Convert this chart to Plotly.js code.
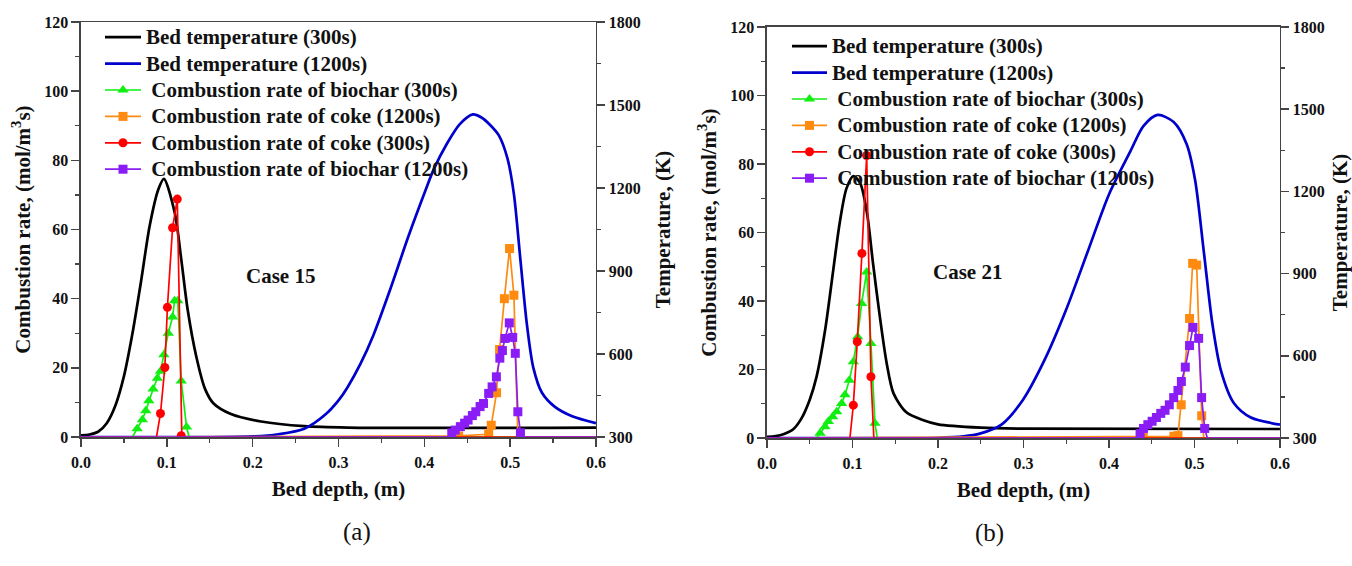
<!DOCTYPE html>
<html><head><meta charset="utf-8">
<script src="https://cdn.plot.ly/plotly-3.0.1.min.js"></script>
<style>html,body{margin:0;padding:0;background:#fff;}</style>
</head><body><div id="chart" style="width:1352px;height:566px;"></div>
<script>
// ---------- Case 15 (panel a) ----------
const a_bed300_x = [0, 0.01, 0.02, 0.03, 0.04, 0.05, 0.06, 0.07, 0.08, 0.09, 0.0966, 0.1092, 0.1168, 0.1243, 0.1344, 0.1445, 0.1545, 0.1747, 0.2099, 0.2602, 0.3106, 0.6];
const a_bed300_T = [306, 309, 319, 350, 413, 519, 675, 863, 1063, 1194, 1233, 1111, 943, 760, 590, 474, 421, 383, 356, 339, 334, 334];
const a_bed1200_x = [0, 0.2, 0.23, 0.2602, 0.2854, 0.3005, 0.3106, 0.3257, 0.3408, 0.3609, 0.381, 0.4012, 0.4112, 0.4263, 0.4414, 0.4565, 0.4666, 0.4767, 0.4867, 0.4968, 0.5044, 0.5119, 0.5195, 0.527, 0.5371, 0.5522, 0.5723, 0.6];
const a_bed1200_T = [300, 302, 310, 330, 383, 434, 480, 565, 669, 839, 1021, 1190, 1269, 1360, 1431, 1466, 1455, 1428, 1391, 1308, 1178, 943, 708, 551, 460, 409, 375, 350];
const a_bio300_x = [0, 0.06, 0.0654, 0.0715, 0.0755, 0.079, 0.084, 0.089, 0.0926, 0.0966, 0.1017, 0.1067, 0.109, 0.1128, 0.1168, 0.123, 0.126, 0.6];
const a_bio300_r = [0, 0, 2.4, 5, 7.6, 10.5, 13.9, 17, 19, 23.8, 30, 34.7, 39.4, 39.4, 16.2, 2.9, 0, 0];
const a_coke1200_x = [0, 0.44, 0.475, 0.478, 0.4842, 0.4877, 0.4933, 0.4993, 0.5044, 0.509, 0.6];
const a_coke1200_r = [0, 0.3, 0.8, 3.4, 12.8, 25.3, 40, 54.5, 41, 0, 0];
const a_coke300_x = [0, 0.088, 0.0926, 0.0977, 0.1007, 0.1067, 0.1122, 0.1168, 0.1175, 0.6];
const a_coke300_r = [0, 0, 6.8, 20.1, 37.5, 60.5, 68.8, 0.4, 0, 0];
const a_bio1200_x = [0, 0.428, 0.432, 0.436, 0.442, 0.447, 0.451, 0.456, 0.460, 0.465, 0.469, 0.475, 0.479, 0.484, 0.488, 0.491, 0.494, 0.499, 0.503, 0.506, 0.509, 0.512, 0.515, 0.6];
const a_bio1200_r = [0, 0, 1.2, 2, 3, 4, 4.9, 6.2, 7.3, 8.8, 9.7, 12.6, 14.5, 17.4, 22.8, 25, 28.5, 33, 28.8, 24.2, 7.3, 1.2, 0, 0];

// ---------- Case 21 (panel b) ----------
const b_bed300_x = [0, 0.01, 0.02, 0.03, 0.04, 0.05, 0.058, 0.068, 0.0775, 0.085, 0.093, 0.101, 0.109, 0.117, 0.124, 0.132, 0.14, 0.148, 0.163, 0.183, 0.2, 0.25, 0.3, 0.6];
const b_bed300_T = [304, 307, 315, 330, 370, 440, 524, 694, 913, 1084, 1211, 1256, 1230, 1120, 938, 743, 573, 463, 394, 365, 350, 338, 334, 333];
const b_bed1200_x = [0, 0.2, 0.23, 0.249, 0.2743, 0.2995, 0.3247, 0.35, 0.375, 0.4, 0.425, 0.4405, 0.457, 0.4757, 0.4908, 0.5008, 0.511, 0.521, 0.531, 0.546, 0.566, 0.6];
const b_bed1200_T = [300, 301, 306, 316, 349, 440, 585, 769, 979, 1189, 1346, 1439, 1479, 1453, 1373, 1241, 979, 716, 546, 428, 375, 349];
const b_bio300_x = [0, 0.058, 0.062, 0.0678, 0.0717, 0.0768, 0.0815, 0.0873, 0.0912, 0.0963, 0.101, 0.106, 0.1107, 0.1166, 0.1216, 0.1263, 0.129, 0.6];
const b_bio300_r = [0, 0, 1.4, 3.3, 4.8, 6.2, 7.7, 10.1, 12.6, 16.9, 22.3, 29.6, 39.3, 48.5, 27.6, 4.3, 0, 0];
const b_coke1200_x = [0, 0.44, 0.476, 0.4807, 0.4845, 0.4943, 0.4979, 0.5026, 0.5085, 0.511, 0.6];
const b_coke1200_r = [0, 0.3, 0.5, 0.7, 9.7, 34.9, 51, 50.5, 6.5, 0, 0];
const b_coke300_x = [0, 0.097, 0.101, 0.1056, 0.111, 0.1166, 0.1216, 0.125, 0.6];
const b_coke300_r = [0, 0, 9.6, 28.1, 53.9, 82.5, 17.9, 0, 0];
const b_bio1200_x = [0, 0.432, 0.4364, 0.4404, 0.4455, 0.4505, 0.4555, 0.4606, 0.4656, 0.4706, 0.4757, 0.4807, 0.4847, 0.4893, 0.4943, 0.4983, 0.5049, 0.5084, 0.512, 0.515, 0.6];
const b_bio1200_r = [0, 0, 1.3, 2.8, 3.9, 4.9, 6, 7.2, 8.1, 9.7, 11.8, 13.9, 16.5, 20.7, 27, 32.3, 29.1, 11.8, 2.8, 0, 0];

const legendNames = ['Bed temperature (300s)', 'Bed temperature (1200s)', ' Combustion rate of biochar (300s)', ' Combustion rate of coke (1200s)', ' Combustion rate of coke (300s)', ' Combustion rate of biochar (1200s)'];
const caseLabels = ['Case 15', 'Case 21'];
const panelLabels = ['(a)', '(b)'];

// ---------- styling ----------
const FONT = 'Liberation Serif, Times New Roman, serif';
const COLORS = {black: '#000000', blue: '#0000cc', green: '#11ee11', orange: '#ff8a10', red: '#ff0000', purple: '#8a1cf5'};

function lbl(t) { return '<span style="font-size:21px">' + t + '</span>'; }
function nonzero(arr) { const idx = []; arr.forEach((v, i) => { if (v > 0) idx.push(i); }); return idx; }

function tempTrace(x, y, name, color, xa, ya, leg) {
  return {x: x, y: y, name: lbl(name), type: 'scatter', mode: 'lines', xaxis: xa, yaxis: ya, legend: leg,
          line: {color: color, width: 2.7, shape: 'spline', smoothing: 0.8}, hoverinfo: 'skip'};
}
function rateTrace(x, y, name, color, symbol, size, xa, ya, leg) {
  return {x: x, y: y, name: lbl(name), type: 'scatter', mode: 'lines+markers', xaxis: xa, yaxis: ya, legend: leg,
          line: {color: color, width: 1.7},
          marker: {color: color, symbol: symbol, size: size},
          selectedpoints: nonzero(y), unselected: {marker: {opacity: 0}}, selected: {marker: {opacity: 1}},
          hoverinfo: 'skip'};
}

const data = [
  tempTrace(a_bed300_x, a_bed300_T, legendNames[0], COLORS.black, 'x', 'y', 'legend'),
  tempTrace(a_bed1200_x, a_bed1200_T, legendNames[1], COLORS.blue, 'x', 'y', 'legend'),
  rateTrace(a_bio300_x, a_bio300_r, legendNames[2], COLORS.green, 'triangle-up', 10, 'x', 'y2', 'legend'),
  rateTrace(a_coke1200_x, a_coke1200_r, legendNames[3], COLORS.orange, 'square', 9, 'x', 'y2', 'legend'),
  rateTrace(a_coke300_x, a_coke300_r, legendNames[4], COLORS.red, 'circle', 9, 'x', 'y2', 'legend'),
  rateTrace(a_bio1200_x, a_bio1200_r, legendNames[5], COLORS.purple, 'square', 9, 'x', 'y2', 'legend'),
  tempTrace(b_bed300_x, b_bed300_T, legendNames[0], COLORS.black, 'x2', 'y3', 'legend2'),
  tempTrace(b_bed1200_x, b_bed1200_T, legendNames[1], COLORS.blue, 'x2', 'y3', 'legend2'),
  rateTrace(b_bio300_x, b_bio300_r, legendNames[2], COLORS.green, 'triangle-up', 10, 'x2', 'y4', 'legend2'),
  rateTrace(b_coke1200_x, b_coke1200_r, legendNames[3], COLORS.orange, 'square', 9, 'x2', 'y4', 'legend2'),
  rateTrace(b_coke300_x, b_coke300_r, legendNames[4], COLORS.red, 'circle', 9, 'x2', 'y4', 'legend2'),
  rateTrace(b_bio1200_x, b_bio1200_r, legendNames[5], COLORS.purple, 'square', 9, 'x2', 'y4', 'legend2')
];

const LINE = '#444444';
const tickFont = {family: FONT, size: 16, color: '#111', weight: 'bold'};
const titleFont = {family: FONT, size: 21, color: '#111', weight: 'bold'};

function xAxis(domain, anchor) {
  return {domain: domain, anchor: anchor, range: [0, 0.6], dtick: 0.1, tick0: 0, tickformat: '.1f',
          ticks: 'outside', ticklen: 8, tickwidth: 1.5, tickcolor: LINE, ticklabelstandoff: 2,
          minor: {dtick: 0.05, ticks: 'outside', ticklen: 4, tickwidth: 1.3, tickcolor: LINE},
          showline: true, linecolor: LINE, linewidth: 1.5, mirror: true, showgrid: false, zeroline: false,
          tickfont: tickFont, title: {text: 'Bed depth, (m)', font: titleFont, standoff: 11}};
}
function tempAxis(domain, anchor) {
  return {domain: domain, anchor: anchor, side: 'right', range: [300, 1800], dtick: 300, tick0: 300,
          ticks: 'outside', ticklen: 8, tickwidth: 1.5, tickcolor: LINE,
          minor: {dtick: 150, ticks: 'outside', ticklen: 4, tickwidth: 1.3, tickcolor: LINE},
          showline: true, linecolor: LINE, linewidth: 1.5, showgrid: false, zeroline: false,
          tickfont: tickFont, title: {text: 'Temperature, (K)', font: titleFont, standoff: 15}};
}
function rateAxis(over, anchor) {
  return {overlaying: over, anchor: anchor, side: 'left', range: [0, 120], dtick: 20, tick0: 0,
          ticks: 'outside', ticklen: 8, tickwidth: 1.5, tickcolor: LINE,
          minor: {dtick: 10, ticks: 'outside', ticklen: 4, tickwidth: 1.3, tickcolor: LINE},
          showline: true, linecolor: LINE, linewidth: 1.5, showgrid: false, zeroline: false,
          tickfont: tickFont, title: {text: 'Combustion rate, (mol/m<sup>3</sup>s)', font: titleFont, standoff: 8}};
}

const legendBase = {bgcolor: 'rgba(0,0,0,0)', borderwidth: 0, font: {family: FONT, size: 18, color: '#111', weight: 'bold'},
                    xanchor: 'left', yanchor: 'top', traceorder: 'normal'};

const layout = {
  width: 1352, height: 566, margin: {l: 0, r: 0, t: 0, b: 0},
  paper_bgcolor: '#ffffff', plot_bgcolor: '#ffffff',
  font: {family: FONT, color: '#111'},
  showlegend: true,
  xaxis: xAxis([0.0599, 0.4408], 'y'),
  yaxis: tempAxis([0.2279, 0.9611], 'x'),
  yaxis2: rateAxis('y', 'x'),
  xaxis2: xAxis([0.5673, 0.9467], 'y3'),
  yaxis3: tempAxis([0.2261, 0.9523], 'x2'),
  yaxis4: rateAxis('y3', 'x2'),
  legend: Object.assign({}, legendBase, {x: 100 / 1352, y: 1 - 19 / 566, itemwidth: 36}),
  legend2: Object.assign({}, legendBase, {x: 787 / 1352, y: 1 - 28 / 566, itemwidth: 35}),
  annotations: [
    {text: caseLabels[0], x: 0.2325, y: 46.7, xref: 'x', yref: 'y2', showarrow: false,
     font: {family: FONT, size: 21, color: '#111', weight: 'bold'}},
    {text: caseLabels[1], x: 0.235, y: 48.5, xref: 'x2', yref: 'y4', showarrow: false,
     font: {family: FONT, size: 21, color: '#111', weight: 'bold'}},
    {text: panelLabels[0], x: 341 / 1352, y: 1 - 548 / 566, xref: 'paper', yref: 'paper', showarrow: false,
     font: {family: FONT, size: 25, color: '#111'}},
    {text: panelLabels[1], x: 1006 / 1352, y: 1 - 549 / 566, xref: 'paper', yref: 'paper', showarrow: false,
     font: {family: FONT, size: 25, color: '#111'}}
  ]
};

Plotly.newPlot('chart', data, layout, {staticPlot: true, displayModeBar: false});
</script></body></html>
